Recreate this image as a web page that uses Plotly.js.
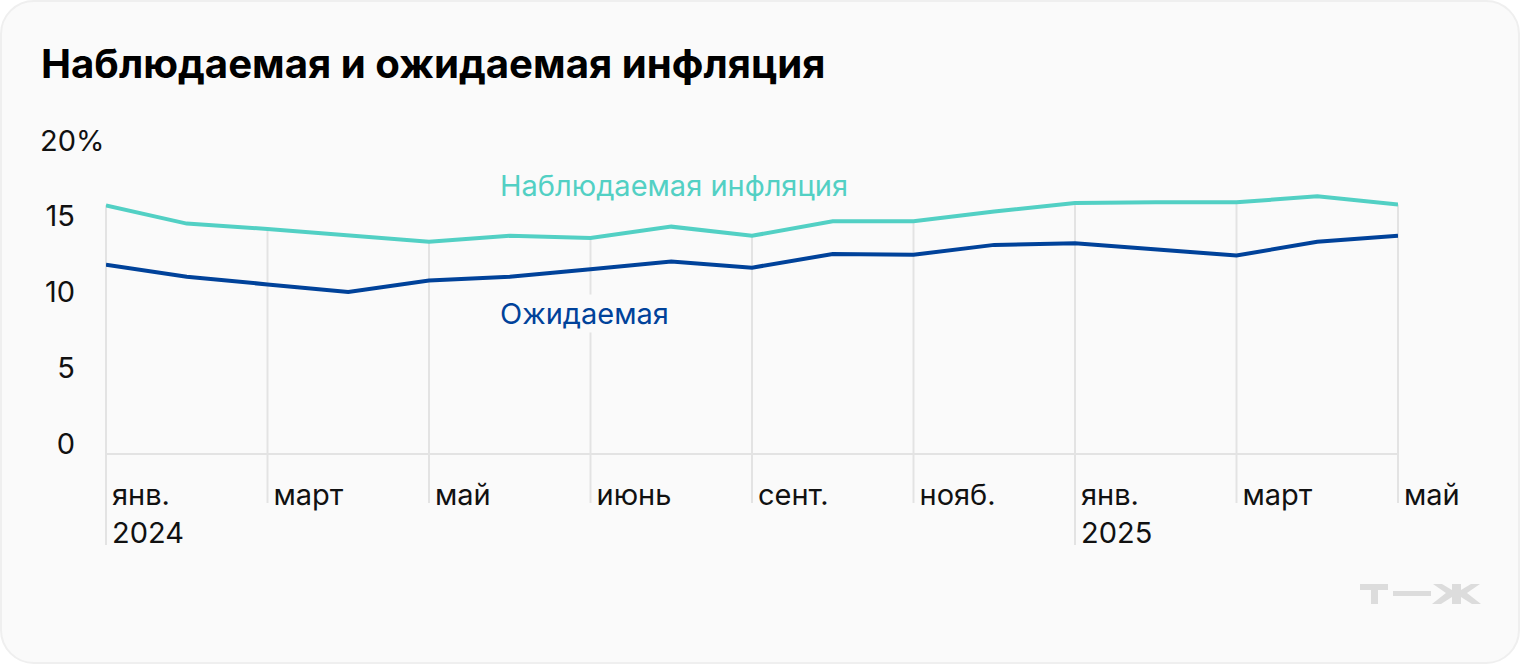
<!DOCTYPE html>
<html lang="ru">
<head>
<meta charset="utf-8">
<script src="https://cdn.plot.ly/plotly-3.0.1.min.js"></script>
<style>
html,body{margin:0;padding:0;background:#fff;width:1520px;height:664px;overflow:hidden}
#card{position:absolute;left:0;top:0;width:1520px;height:664px;box-sizing:border-box;background:#fafafa;border:2px solid #efefef;border-radius:34px}
#chart{position:absolute;left:0;top:0;width:1520px;height:664px}
</style>
</head>
<body>
<div id="card"></div>
<div id="chart"></div>
<script>
const months = ["2024-01","2024-02","2024-03","2024-04","2024-05","2024-06","2024-07","2024-08","2024-09","2024-10","2024-11","2024-12","2025-01","2025-02","2025-03","2025-04","2025-05"];
const observed = [15.7,14.5,14.15,13.7,13.3,13.7,13.55,14.3,13.7,14.65,14.65,15.3,15.85,15.9,15.9,16.3,15.75];
const expected = [11.8,11.0,10.5,10.0,10.75,11.0,11.5,12.0,11.6,12.5,12.45,13.1,13.2,12.8,12.4,13.3,13.7];
const tickIndex = [0,2,4,6,8,10,12,14,16];
const tickLabels = ["янв.<br>2024","март","май","июнь","сент.","нояб.","янв.<br>2025","март","май"];
const yTicks = [0,5,10,15];
const yTickLabels = ["0","5","10","15"];

const FONT = "Inter, 'Noto Sans', sans-serif";
const TEAL = "#52d0c4", BLUE = "#00429a", GRID = "#e3e3e3", INK = "#111111", LOGO = "#dcdcdc";
const W = 1520, H = 664, L = 105.5, R = 1398, T = 140, B = 453;
const ZERO_PX = 444, PX_PER_UNIT = 15.2;
const yAt = p => (ZERO_PX - p) / PX_PER_UNIT;
const px = x => (x - L) / (R - L);
const py = y => (B - y) / (B - T);
const yPaper = v => py(ZERO_PX - v * PX_PER_UNIT);
const xs = months.map((_, i) => i);

const traces = [
  {x: xs, y: expected, name: "Ожидаемая", mode: "lines", line: {color: BLUE, width: 4}, cliponaxis: false, showlegend: false},
  {x: xs, y: observed, name: "Наблюдаемая инфляция", mode: "lines", line: {color: TEAL, width: 4}, cliponaxis: false, showlegend: false}
];

const gridShapes = tickIndex.map((i, k) => ({
  type: "line", xref: "paper", yref: "paper",
  x0: i / (months.length - 1), x1: i / (months.length - 1),
  y0: yPaper(observed[i]), y1: py(tickLabels[k].includes("<br>") ? 545 : 503),
  line: {color: GRID, width: 2}, layer: "below"
}));

const poly = pts => "M" + pts.map(p => px(p[0]) + "," + py(p[1])).join("L") + "Z";
const logoPaths = [
  [[1360,584],[1388,584],[1388,590],[1378,590],[1378,604],[1371,604],[1371,590],[1360,590]],
  [[1393,591],[1431,591],[1431,596],[1393,596]],
  [[1433,584],[1442,584],[1452,590],[1452,584],[1461,584],[1461,590],[1471,584],[1480,584],[1467,593],[1481,604],[1472,604],[1461,597],[1461,604],[1452,604],[1452,597],[1441,604],[1432,604],[1446,593]]
];
const logoShapes = logoPaths.map(p => ({type: "path", xref: "paper", yref: "paper", path: poly(p), fillcolor: LOGO, line: {width: 0}, layer: "below"}));

const layout = {
  width: W, height: H,
  paper_bgcolor: "rgba(0,0,0,0)", plot_bgcolor: "rgba(0,0,0,0)",
  margin: {l: L, r: W - R, t: T, b: H - B, pad: 0},
  font: {family: FONT, color: INK, size: 29},
  title: {text: "<b>Наблюдаемая и ожидаемая инфляция</b>", xref: "container", yref: "container", x: 41 / W, xanchor: "left", y: 1 - 64 / H, yanchor: "middle", font: {family: FONT, size: 40.2, color: "#000"}},
  xaxis: {range: [0, 16], tickmode: "array", tickvals: tickIndex, ticktext: tickLabels, ticks: "", showgrid: false, zeroline: false, showline: true, linecolor: GRID, linewidth: 2, ticklabelposition: "outside right", ticklabelstandoff: 15, ticklabelshift: 5, ticklabeloverflow: "allow", tickfont: {family: FONT, size: 29, color: INK}, fixedrange: true},
  yaxis: {range: [yAt(B), yAt(T)], tickmode: "array", tickvals: yTicks, ticktext: yTickLabels, ticks: "", showgrid: false, zeroline: false, showline: false, ticklabelstandoff: 30, tickfont: {family: FONT, size: 29, color: INK}, fixedrange: true},
  annotations: [
    {xref: "paper", yref: "y", x: px(37), y: 20, xanchor: "left", yanchor: "middle", text: "20%", showarrow: false, font: {family: FONT, size: 29, color: INK}},
    {xref: "x", yref: "y", x: 4.86, y: yAt(185), xanchor: "left", yanchor: "middle", text: "Наблюдаемая инфляция", showarrow: false, font: {family: FONT, size: 29, color: TEAL}},
    {xref: "x", yref: "y", x: 4.86, y: yAt(313), xanchor: "left", yanchor: "middle", text: "Ожидаемая", showarrow: false, bgcolor: "#fafafa", font: {family: FONT, size: 29, color: BLUE}}
  ],
  shapes: gridShapes.concat(logoShapes)
};
Plotly.newPlot("chart", traces, layout, {displayModeBar: false, staticPlot: true});
</script>
</body>
</html>
